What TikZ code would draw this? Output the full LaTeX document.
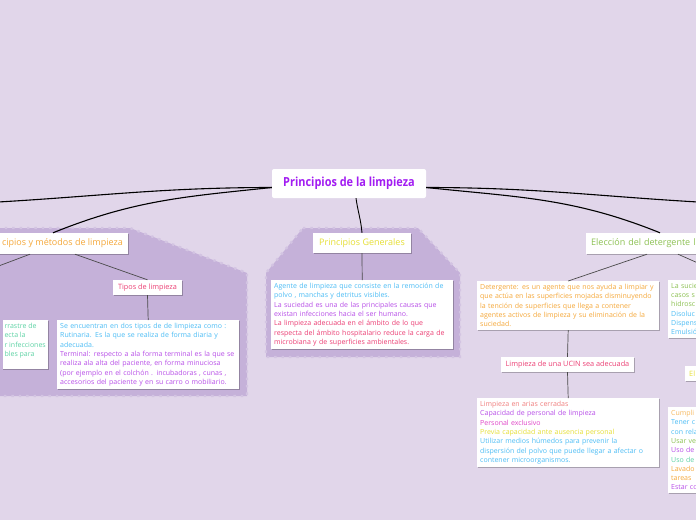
\documentclass[tikz,border=0pt]{standalone}
\usepackage{fontspec}
\setmainfont{Open Sans}
\newfontfamily\titlefont{Open Sans}[FakeStretch=0.875]
\usetikzlibrary{positioning, calc, shadows}
\definecolor{BgLilac}{HTML}{E1D6EA}
\definecolor{GroupLilac}{HTML}{C5B1D9}
\definecolor{GroupEdge}{HTML}{D3C4E2}
\definecolor{TitlePurple}{HTML}{A21CF2}
\definecolor{NoteOrange}{HTML}{F5A83A}
\definecolor{NoteYellow}{HTML}{E6DF35}
\definecolor{NotePink}{HTML}{EC3F74}
\definecolor{NoteBlue}{HTML}{4DBDF5}
\definecolor{NotePurple}{HTML}{B84FE8}
\definecolor{NoteTeal}{HTML}{5ED3A5}
\definecolor{NoteGreen}{HTML}{8CC152}
\definecolor{NoteSalmon}{HTML}{F07F7F}
\definecolor{NoteMagenta}{HTML}{E046C8}
\definecolor{LinkGray}{HTML}{4A4A4A}

\begin{document}
\begin{tikzpicture}[x=1pt, y=-1pt,
    titlebox/.style={fill=white, rounded corners=2pt, text=TitlePurple, font=\titlefont\bfseries\fontsize{12.5}{14}\selectfont, minimum width=154pt, minimum height=29pt, inner sep=0pt},
    labelbox/.style={fill=white, drop shadow={shadow xshift=0.8pt, shadow yshift=-0.8pt, fill=black, opacity=0.25}, inner xsep=5pt, inner ysep=0pt, font=\fontsize{9}{11}\selectfont},
    smallbox/.style={labelbox, inner xsep=4pt, font=\fontsize{7.3}{9}\selectfont},
    notebox/.style={fill=white, drop shadow={shadow xshift=0.8pt, shadow yshift=-0.8pt, fill=black, opacity=0.25}, anchor=north west, align=left, inner xsep=3pt, inner ysep=3pt, font=\fontsize{7}{9.3}\selectfont},
    grouparea/.style={fill=GroupLilac, draw=GroupEdge, line width=2.4pt, dash pattern=on 2.4pt off 5pt},
    mainlink/.style={black, line width=1.1pt},
    sublink/.style={LinkGray, line width=0.7pt}]
    \useasboundingbox (0,0) rectangle (696,520);
    \clip (0,0) rectangle (696,520);
    \fill[BgLilac] (0,0) rectangle (696,520);

    \path[grouparea] (-10,228) -- (130,228) -- (247,273) -- (247,396) -- (-10,396) -- cycle;
    \path[grouparea] (303,228) -- (418,228) -- (460,273) -- (460,357) -- (266,357) -- (266,273) -- cycle;

    \node[titlebox] (title) at (349,183.5) {Principios de la limpieza};

    \node[labelbox, text=NoteOrange, anchor=east, minimum height=21pt] (methods) at (128,243.5) {cipios y métodos de limpieza};
    \node[smallbox, text=NotePink, minimum width=69pt, minimum height=15pt] (tipos) at (147.5,287.5) {Tipos de limpieza};
    \node[notebox, anchor=north east, text=NoteTeal, inner xsep=2pt] (cutLeft) at (48,320) {rrastre de\\ecta la\\r infecciones\\bles para\\ \mbox{}};
    \node[notebox, text width=176pt] (tiposNote) at (57,320) {\color{NoteBlue}Se encuentran en dos tipos de de limpieza como :\\Rutinaria. Es la que se realiza de forma diaria y\\adecuada.\\\color{NotePurple}Terminal: respecto a ala forma terminal es la que se\\realiza ala alta del paciente, en forma minuciosa\\(por ejemplo en el colchón . incubadoras , cunas ,\\accesorios del paciente y en su carro o mobiliario.};

    \node[labelbox, text=NoteYellow, minimum width=98pt, minimum height=20pt] (generales) at (362,243) {Principios Generales};
    \node[notebox, text width=176pt] (genNote) at (271,280) {\color{NoteBlue}Agente de limpieza que consiste en la remoción de\\polvo , manchas y detritus visibles.\\\color{NotePurple}La suciedad es una de las principales causas que\\existan infecciones hacia el ser humano.\\\color{NotePink}La limpieza adecuada en el ámbito de lo que\\respecta del ámbito hospitalario reduce la carga de\\microbiana y de superficies ambientales.};

    \node[labelbox, text=NoteGreen, anchor=west, text width=150pt, align=left, minimum height=21pt] (eleccion) at (586,243.5) {Elección del detergente l};
    \node[notebox, text width=176pt, text=NoteOrange] (detergente) at (477,281) {Detergente: es un agente que nos ayuda a limpiar y\\que actúa en las superficies mojadas disminuyendo\\la tención de superficies que llega a contener\\agentes activos de limpieza y su eliminación de la\\suciedad.};
    \node[smallbox, text=NotePink, minimum width=133pt, minimum height=15pt] (ucin) at (567.5,364.5) {Limpieza de una UCIN sea adecuada};
    \node[notebox, text width=176pt] (limpiezaNote) at (477,398) {\color{NoteSalmon}Limpieza en arias cerradas\\\color{NotePurple}Capacidad de personal de limpieza\\\color{NoteMagenta}Personal exclusivo\\\color{NoteYellow}Previa capacidad ante ausencia personal\\\color{NoteBlue}Utilizar medios húmedos para prevenir la\\dispersión del polvo que puede llegar a afectar  o\\contener microorganismos.};

    \node[notebox, text width=150pt] (rightTop) at (668,280) {\color{NoteGreen}La sucie\\casos s\\hidrosc\\\color{NoteBlue}Disoluc\\Dispens\\Emulsió};
    \node[smallbox, text=NoteYellow, anchor=west, text width=40pt, align=left, minimum height=15pt] (rightEl) at (685,373.5) {El};
    \node[notebox, text width=150pt] (rightBottom) at (668,407) {\color{NoteOrange!80}Cumpli\\\color{NoteBlue}Tener c\\con rela\\\color{NoteGreen}Usar ve\\\color{NotePurple}Uso de\\\color{NoteTeal}Uso de\\\color{NoteOrange}Lavado\\tareas\\\color{NotePurple}Estar co};

    \coordinate (offLeft) at (-20,203);
    \coordinate (offLeftLow) at (-20,273);
    \coordinate (offRight) at (716,203);
    \coordinate (offRightLow) at (716,271);

    \draw[mainlink] ([yshift=-4pt]title.west) to[out=180, in=3] (offLeft);
    \draw[mainlink] ([yshift=-4pt]title.west) to[out=186, in=22] ([xshift=-75pt]methods.north east);
    \draw[mainlink] ([yshift=-4pt]title.east) to[out=0, in=177] (offRight);
    \draw[mainlink] ([yshift=-4pt]title.east) to[out=-6, in=158] ([xshift=74pt]eleccion.north west);
    \draw[mainlink, line width=0.9pt] ([xshift=7pt]title.south) to[out=-82, in=95] (generales.north);

    \draw[sublink] ([xshift=-98pt]methods.south east) -- (offLeftLow);
    \draw[sublink] ([xshift=-53pt]methods.south east) -- (tipos.north);
    \draw[sublink] (tipos.south) -- (tiposNote.north);
    \draw[sublink] (generales.south) -- (genNote.north);
    \draw[sublink] ([xshift=61pt]eleccion.south west) -- (detergente.north);
    \draw[sublink] ([xshift=92pt]eleccion.south west) -- (offRightLow);
    \draw[sublink] (detergente.south) -- (ucin.north);
    \draw[sublink] (ucin.south) -- (limpiezaNote.north);
\end{tikzpicture}
\end{document}
